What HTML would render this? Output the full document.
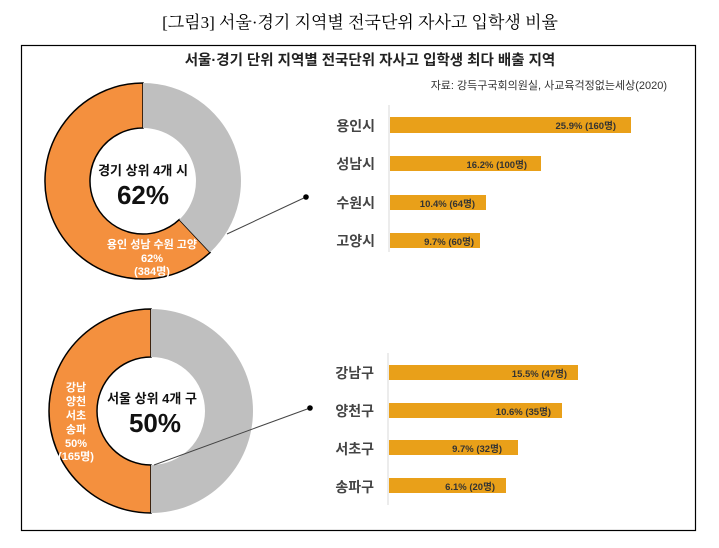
<!DOCTYPE html>
<html><head><meta charset="utf-8"><style>
body{margin:0;background:#fff;}
svg{display:block;font-family:"Liberation Sans","Noto Sans CJK KR",sans-serif;}
</style></head><body>
<svg width="719" height="548" viewBox="0 0 719 548">
<text x="360" y="28" text-anchor="middle" font-family="'Liberation Serif','Noto Serif CJK SC',serif" font-size="17" fill="#000">[그림3] 서울·경기 지역별 전국단위 자사고 입학생 비율</text>
<rect x="21.5" y="45.5" width="674" height="485" fill="none" stroke="#000" stroke-width="1.2"/>
<text x="370" y="65" text-anchor="middle" font-size="14.5" font-weight="bold" fill="#222">서울·경기 단위 지역별 전국단위 자사고 입학생 최다 배출 지역</text>
<text x="667" y="89" text-anchor="end" font-size="11" fill="#333">자료: 강득구국회의원실, 사교육걱정없는세상(2020)</text>

<path d="M210.1,252.4 A98 98 0 1 1 143,83 L143,128 A53 53 0 1 0 179.3,219.6 Z" fill="#F4903E" stroke="#000" stroke-width="1.5"/>
<path d="M143,83 A98 98 0 0 1 210.1,252.4 L179.3,219.6 A53 53 0 0 0 143,128 Z" fill="#BFBFBF"/>
<text x="143" y="175" text-anchor="middle" font-size="13" font-weight="bold" fill="#111">경기 상위 4개 시</text>
<text x="143" y="204" text-anchor="middle" font-size="26" font-weight="bold" fill="#111">62%</text>
<g font-size="11" font-weight="bold" fill="#fff" text-anchor="middle">
<text x="152" y="248">용인 성남 수원 고양</text>
<text x="152" y="262">62%</text>
<text x="152" y="275">(384명)</text></g>
<line x1="227" y1="234" x2="306" y2="197" stroke="#444" stroke-width="1"/>
<circle cx="306" cy="197" r="2.8" fill="#000"/>

<path d="M151,513 A102 102 0 0 1 151,309 L151,357 A54 54 0 0 0 151,465 Z" fill="#F4903E" stroke="#000" stroke-width="1.5"/>
<path d="M151,309 A102 102 0 0 1 151,513 L151,465 A54 54 0 0 0 151,357 Z" fill="#BFBFBF"/>
<text x="152" y="403" text-anchor="middle" font-size="13" font-weight="bold" fill="#111">서울 상위 4개 구</text>
<text x="155" y="432" text-anchor="middle" font-size="26" font-weight="bold" fill="#111">50%</text>
<g font-size="11" font-weight="bold" fill="#fff" text-anchor="middle">
<text x="76" y="391">강남</text><text x="76" y="405">양천</text><text x="76" y="419">서초</text><text x="76" y="433">송파</text><text x="76" y="447">50%</text><text x="76" y="460">(165명)</text></g>
<line x1="154" y1="465" x2="310" y2="408" stroke="#444" stroke-width="1"/>
<circle cx="310" cy="408" r="2.8" fill="#000"/>

<line x1="389" y1="105" x2="389" y2="252" stroke="#d9d9d9" stroke-width="1"/>
<g fill="#E9A019">
<rect x="390" y="117" width="241" height="16"/><rect x="390" y="156" width="151" height="15"/>
<rect x="390" y="195" width="96" height="15"/><rect x="390" y="233" width="90" height="15"/></g>
<g font-size="14" font-weight="bold" fill="#444" text-anchor="end">
<text x="375" y="131">용인시</text><text x="375" y="169">성남시</text><text x="375" y="208">수원시</text><text x="375" y="246">고양시</text></g>
<g font-size="9.5" fill="#333" font-weight="bold" text-anchor="end">
<text x="616" y="129">25.9% (160명)</text><text x="527" y="168">16.2% (100명)</text><text x="475" y="207">10.4% (64명)</text><text x="474" y="245">9.7% (60명)</text></g>

<line x1="388" y1="353" x2="388" y2="505" stroke="#d9d9d9" stroke-width="1"/>
<g fill="#E9A019">
<rect x="389" y="365" width="189" height="15"/><rect x="389" y="403" width="173" height="15"/>
<rect x="389" y="440" width="129" height="15"/><rect x="389" y="478" width="117" height="15"/></g>
<g font-size="14" font-weight="bold" fill="#444" text-anchor="end">
<text x="374" y="378">강남구</text><text x="374" y="416">양천구</text><text x="374" y="454">서초구</text><text x="374" y="492">송파구</text></g>
<g font-size="9.5" fill="#333" font-weight="bold" text-anchor="end">
<text x="567" y="377">15.5% (47명)</text><text x="551" y="415">10.6% (35명)</text><text x="502" y="452">9.7% (32명)</text><text x="495" y="490">6.1% (20명)</text></g>
</svg>
</body></html>
